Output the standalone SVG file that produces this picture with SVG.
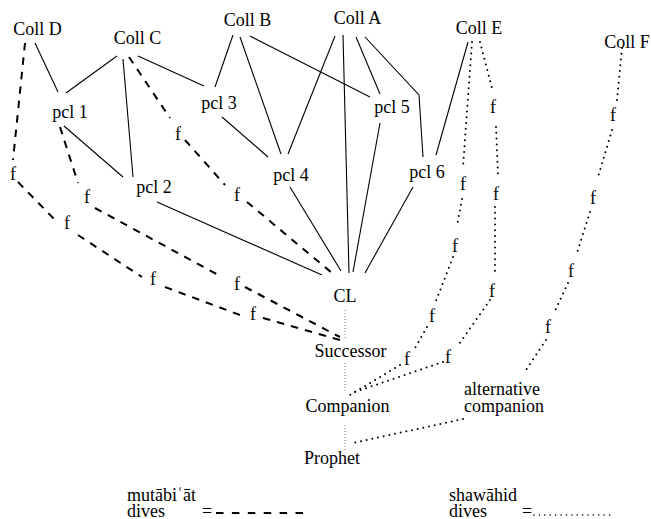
<svg xmlns="http://www.w3.org/2000/svg" width="651" height="519" viewBox="0 0 651 519" font-family="Liberation Serif, Times New Roman, serif" font-size="18">
  <style>
    .c { text-anchor: middle; }
    .solid { stroke: #000; stroke-width: 1.1; fill: none; }
    .dash { stroke: #000; stroke-width: 2; stroke-dasharray: 7.5 7; fill: none; }
    .dot { stroke: #000; stroke-width: 2; stroke-linecap: round; stroke-dasharray: 0 5.8; fill: none; }
    .spine { stroke: #777; stroke-width: 1; stroke-dasharray: 1 2; fill: none; }
  </style>
  <rect width="651" height="519" fill="#fff"/>

  <!-- connectors -->
  <g id="connectors">
    <!-- solid transmission lines -->
    <line class="solid" x1="35" y1="43" x2="58" y2="92"/>
    <line class="solid" x1="117" y1="56" x2="66" y2="93"/>
    <line class="solid" x1="123" y1="59" x2="133" y2="177"/>
    <line class="solid" x1="138" y1="56" x2="204" y2="86"/>
    <line class="solid" x1="64" y1="126" x2="123" y2="177"/>
    <line class="solid" x1="233" y1="35" x2="215" y2="87"/>
    <line class="solid" x1="240" y1="37" x2="281" y2="154"/>
    <line class="solid" x1="250" y1="36" x2="370" y2="97"/>
    <line class="solid" x1="222" y1="117" x2="268" y2="157"/>
    <line class="solid" x1="335" y1="36" x2="288" y2="154"/>
    <line class="solid" x1="343" y1="35" x2="349" y2="273"/>
    <line class="solid" x1="356" y1="37" x2="380" y2="94"/>
    <polyline class="solid" points="365,37 419,95 423,157"/>
    <line class="solid" x1="380" y1="123" x2="353" y2="272"/>
    <line class="solid" x1="413" y1="187" x2="365" y2="273"/>
    <line class="solid" x1="290" y1="187" x2="341" y2="271"/>
    <line class="solid" x1="157" y1="202" x2="322" y2="275"/>
    <line class="solid" x1="468" y1="42" x2="436" y2="155"/>

    <!-- mutabi'at (dashed) -->
    <line class="dash" x1="25" y1="43" x2="13" y2="160"/>
    <line class="dash" x1="18" y1="182" x2="57" y2="222"/>
    <line class="dash" x1="78" y1="235" x2="142" y2="277"/>
    <line class="dash" x1="165" y1="287" x2="240" y2="315"/>
    <line class="dash" x1="263" y1="318" x2="340" y2="340"/>

    <line class="dash" x1="60" y1="127" x2="78" y2="183"/>
    <line class="dash" x1="95" y1="208" x2="222" y2="277"/>
    <line class="dash" x1="245" y1="287" x2="340" y2="337"/>

    <line class="dash" x1="129" y1="57" x2="170" y2="118"/>
    <line class="dash" x1="185" y1="140" x2="225" y2="185"/>
    <line class="dash" x1="247" y1="202" x2="332" y2="273"/>

    <!-- shawahid (dotted) -->
    <line class="dot" x1="472" y1="42" x2="463" y2="167"/>
    <line class="dot" x1="462" y1="199" x2="457" y2="226"/>
    <line class="dot" x1="453" y1="257" x2="436" y2="301"/>
    <line class="dot" x1="427" y1="327" x2="415" y2="348"/>
    <line class="dot" x1="400" y1="365" x2="350" y2="395"/>

    <line class="dot" x1="480" y1="42" x2="493" y2="92"/>
    <line class="dot" x1="496" y1="127" x2="498" y2="175"/>
    <line class="dot" x1="495" y1="207" x2="495" y2="272"/>
    <line class="dot" x1="490" y1="300" x2="457" y2="347"/>
    <line class="dot" x1="443" y1="362" x2="352" y2="393"/>

    <line class="dot" x1="622" y1="48" x2="617" y2="100"/>
    <line class="dot" x1="612" y1="130" x2="598" y2="177"/>
    <line class="dot" x1="590" y1="212" x2="577" y2="253"/>
    <line class="dot" x1="568" y1="283" x2="554" y2="313"/>
    <line class="dot" x1="546" y1="340" x2="524" y2="373"/>

    <line class="dot" x1="463" y1="419" x2="353" y2="443"/>

    <!-- main isnad spine -->
    <line class="spine" x1="345" y1="310" x2="345" y2="340"/>
    <line class="spine" x1="345" y1="363" x2="345" y2="393"/>
    <line class="spine" x1="345" y1="425" x2="345" y2="450"/>
  </g>

  <!-- fabricated-link marks -->
  <g id="f-marks" class="c">
    <text x="13" y="180">f</text>
    <text x="67" y="229">f</text>
    <text x="153" y="285">f</text>
    <text x="253" y="320">f</text>
    <text x="87" y="203">f</text>
    <text x="237" y="290">f</text>
    <text x="178" y="140">f</text>
    <text x="237" y="201">f</text>
    <text x="463" y="190">f</text>
    <text x="455" y="252">f</text>
    <text x="432" y="322">f</text>
    <text x="407" y="365">f</text>
    <text x="493" y="113">f</text>
    <text x="496" y="200">f</text>
    <text x="492" y="297">f</text>
    <text x="448" y="363">f</text>
    <text x="613" y="121">f</text>
    <text x="593" y="204">f</text>
    <text x="571" y="277">f</text>
    <text x="548" y="333">f</text>
  </g>

  <!-- nodes -->
  <g id="coll-d"><text class="c" x="37.5" y="35">Coll D</text></g>
  <g id="coll-c"><text class="c" x="137.5" y="44">Coll C</text></g>
  <g id="coll-b"><text class="c" x="247.5" y="26">Coll B</text></g>
  <g id="coll-a"><text class="c" x="357.5" y="24">Coll A</text></g>
  <g id="coll-e"><text class="c" x="479" y="34">Coll E</text></g>
  <g id="coll-f"><text class="c" x="627" y="48">Coll F</text></g>
  <g id="pcl-1"><text class="c" x="70" y="118">pcl 1</text></g>
  <g id="pcl-2"><text class="c" x="154" y="193">pcl 2</text></g>
  <g id="pcl-3"><text class="c" x="219" y="109">pcl 3</text></g>
  <g id="pcl-4"><text class="c" x="291" y="181">pcl 4</text></g>
  <g id="pcl-5"><text class="c" x="392" y="113">pcl 5</text></g>
  <g id="pcl-6"><text class="c" x="427" y="178">pcl 6</text></g>
  <g id="cl"><text class="c" x="345" y="302">CL</text></g>
  <g id="successor"><text class="c" x="350.5" y="357">Successor</text></g>
  <g id="companion"><text class="c" x="347.5" y="412">Companion</text></g>
  <g id="prophet"><text class="c" x="332" y="464">Prophet</text></g>
  <g id="alt-companion">
    <text x="464" y="395">alternative</text>
    <text x="464" y="412">companion</text>
  </g>

  <!-- legend -->
  <g id="legend">
    <text x="127" y="501">mutābiʿāt</text>
    <text x="127" y="517">dives</text>
    <text x="202" y="517">=</text>
    <line x1="216" y1="513" x2="303" y2="513" stroke="#000" stroke-width="2" stroke-dasharray="7.5 8.4"/>
    <text x="449" y="501">shawāhid</text>
    <text x="449" y="517">dives</text>
    <text x="522" y="517">=</text>
    <line x1="534" y1="515" x2="610" y2="515" stroke="#000" stroke-width="1.6" stroke-linecap="round" stroke-dasharray="0 5.4"/>
  </g>
</svg>
